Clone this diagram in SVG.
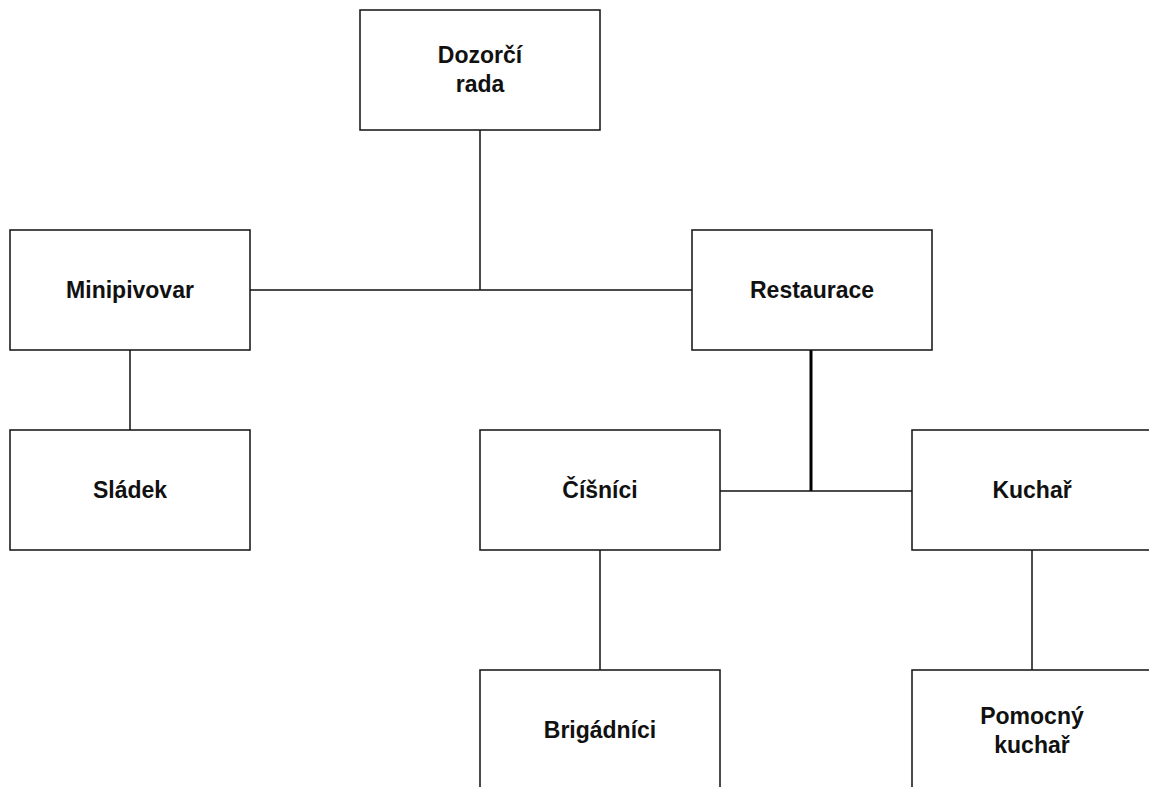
<svg xmlns="http://www.w3.org/2000/svg" width="1149" height="787" viewBox="0 0 1149 787">
<style>
.box{fill:#fff;stroke:#111;stroke-width:1.5}
.lbl{font-family:"Liberation Sans",Arial,sans-serif;font-weight:bold;font-size:23px;fill:#111;text-anchor:middle}
.ln{stroke:#111;stroke-width:1.5;fill:none}
.thick{stroke:#000;stroke-width:3;fill:none}
</style>
<rect width="1149" height="787" fill="#fff"/>
<g id="connectors">
<path class="ln" d="M480 130V290M250 290H692"/>
<path class="ln" d="M130 350V430"/>
<path class="thick" d="M811 350V491"/>
<path class="ln" d="M720 491H912"/>
<path class="ln" d="M600 550V670"/>
<path class="ln" d="M1032 550V670"/>
</g>
<g id="dozorci"><rect class="box" x="360" y="10" width="240" height="120"/><text class="lbl" x="480" y="63">Dozorčí</text><text class="lbl" x="480" y="92">rada</text></g>
<g id="minipivovar"><rect class="box" x="10" y="230" width="240" height="120"/><text class="lbl" x="130" y="298">Minipivovar</text></g>
<g id="restaurace"><rect class="box" x="692" y="230" width="240" height="120"/><text class="lbl" x="812" y="298">Restaurace</text></g>
<g id="sladek"><rect class="box" x="10" y="430" width="240" height="120"/><text class="lbl" x="130" y="498">Sládek</text></g>
<g id="cisnici"><rect class="box" x="480" y="430" width="240" height="120"/><text class="lbl" x="600" y="498">Číšníci</text></g>
<g id="kuchar"><rect class="box" x="912" y="430" width="240" height="120"/><text class="lbl" x="1032" y="498">Kuchař</text></g>
<g id="brigadnici"><rect class="box" x="480" y="670" width="240" height="120"/><text class="lbl" x="600" y="738">Brigádníci</text></g>
<g id="pomocny"><rect class="box" x="912" y="670" width="240" height="120"/><text class="lbl" x="1032" y="724">Pomocný</text><text class="lbl" x="1032" y="753">kuchař</text></g>
</svg>
